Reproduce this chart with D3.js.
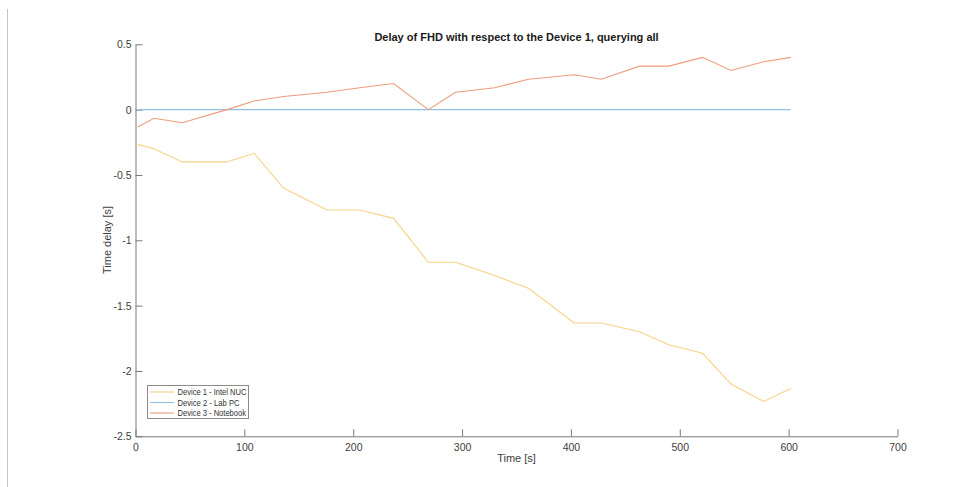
<!DOCTYPE html>
<html><head><meta charset="utf-8">
<script src="https://cdn.jsdelivr.net/npm/d3@7"></script>
<style>
html,body{margin:0;padding:0;background:#fff;}
svg{display:block;font-family:"Liberation Sans",Arial,Helvetica,sans-serif;}
</style></head>
<body>
<svg id="chart" width="979" height="487"></svg>
<script>
const times = [2, 17, 43, 84, 109, 136, 176, 206, 237, 269, 294, 330, 361, 403, 428, 463, 490, 521, 547, 577, 602];
const intelNuc = [-0.266, -0.30, -0.40, -0.40, -0.334, -0.60, -0.768, -0.768, -0.832, -1.168, -1.168, -1.27, -1.367, -1.633, -1.633, -1.70, -1.80, -1.865, -2.10, -2.233, -2.135];
const labPc = [0, 0, 0, 0, 0, 0, 0, 0, 0, 0, 0, 0, 0, 0, 0, 0, 0, 0, 0, 0, 0];
const notebook = [-0.133, -0.066, -0.10, 0.0, 0.066, 0.10, 0.133, 0.167, 0.20, 0.0, 0.133, 0.167, 0.233, 0.267, 0.233, 0.333, 0.333, 0.40, 0.30, 0.367, 0.40];
const seriesNames = ["Device 1 - Intel NUC", "Device 2 - Lab PC", "Device 3 - Notebook"];
const seriesColors = ["#f6d286", "#93c1e2", "#ef9c7c"];
const xTicks = [0, 100, 200, 300, 400, 500, 600, 700];
const yTicks = [0.5, 0, -0.5, -1, -1.5, -2, -2.5];
const titleText = "Delay of FHD with respect to the Device 1, querying all";
const xLabel = "Time [s]";
const yLabel = "Time delay [s]";

const svg = d3.select("#chart");
const x = d3.scaleLinear().domain([0, 700]).range([135.5, 897.5]);
const y = d3.scaleLinear().domain([-2.5, 0.5]).range([436.3, 44.3]);

// left separator line
svg.append("line").attr("x1", 7.5).attr("x2", 7.5).attr("y1", 9).attr("y2", 487)
  .attr("stroke", "#c4c4c4").attr("stroke-width", 1);

const axisColor = "#7a7a7a";
const textColor = "#404040";

// x axis
const xAxis = svg.append("g").attr("transform", `translate(0,${y(-2.5)})`)
  .call(d3.axisBottom(x).tickValues(xTicks).tickFormat(d3.format("d")).tickSizeInner(-7).tickSizeOuter(0).tickPadding(5));
// y axis
const yAxis = svg.append("g").attr("transform", `translate(${x(0)},0)`)
  .call(d3.axisLeft(y).tickValues(yTicks).tickFormat(d => String(d)).tickSizeInner(-7).tickSizeOuter(0).tickPadding(4));
[xAxis, yAxis].forEach(g => {
  g.select(".domain").attr("stroke", axisColor);
  g.selectAll(".tick line").attr("stroke", axisColor);
  g.selectAll(".tick text").attr("fill", textColor).attr("font-size", 10.5)
    .attr("font-family", "'Liberation Sans',Arial,sans-serif");
});
xAxis.selectAll(".tick text").attr("dy", "0.95em");

// lines
const data = [intelNuc, labPc, notebook];
const lineGen = d3.line().x((d, i) => x(times[i])).y(d => y(d));
data.forEach((vals, k) => {
  svg.append("path").datum(vals).attr("d", lineGen)
    .attr("fill", "none").attr("stroke", seriesColors[k]).attr("stroke-width", 1.1);
});

// title and labels
svg.append("text").attr("x", 516.5).attr("y", 41).attr("text-anchor", "middle")
  .attr("font-size", 11).attr("font-weight", "bold").attr("fill", "#1a1a1a").text(titleText);
svg.append("text").attr("x", 516.5).attr("y", 462).attr("text-anchor", "middle")
  .attr("font-size", 11).attr("fill", textColor).text(xLabel);
svg.append("text").attr("transform", "translate(111,240) rotate(-90)").attr("text-anchor", "middle")
  .attr("font-size", 11).attr("fill", textColor).text(yLabel);

// legend
const legendTextWidths = [69, 62, 68.5];
const lg = svg.append("g");
lg.append("rect").attr("x", 147.5).attr("y", 385.5).attr("width", 101).attr("height", 33)
  .attr("fill", "#fff").attr("stroke", "#8a8a8a").attr("stroke-width", 1);
seriesNames.forEach((name, k) => {
  const yy = 392 + k * 10.5;
  lg.append("line").attr("x1", 150).attr("x2", 174).attr("y1", yy).attr("y2", yy)
    .attr("stroke", seriesColors[k]).attr("stroke-width", 1.1);
  lg.append("text").attr("x", 177.5).attr("y", yy + 3.3).attr("font-size", 9)
    .attr("textLength", legendTextWidths[k]).attr("lengthAdjust", "spacingAndGlyphs")
    .attr("fill", "#333").text(name);
});
</script>
</body></html>
